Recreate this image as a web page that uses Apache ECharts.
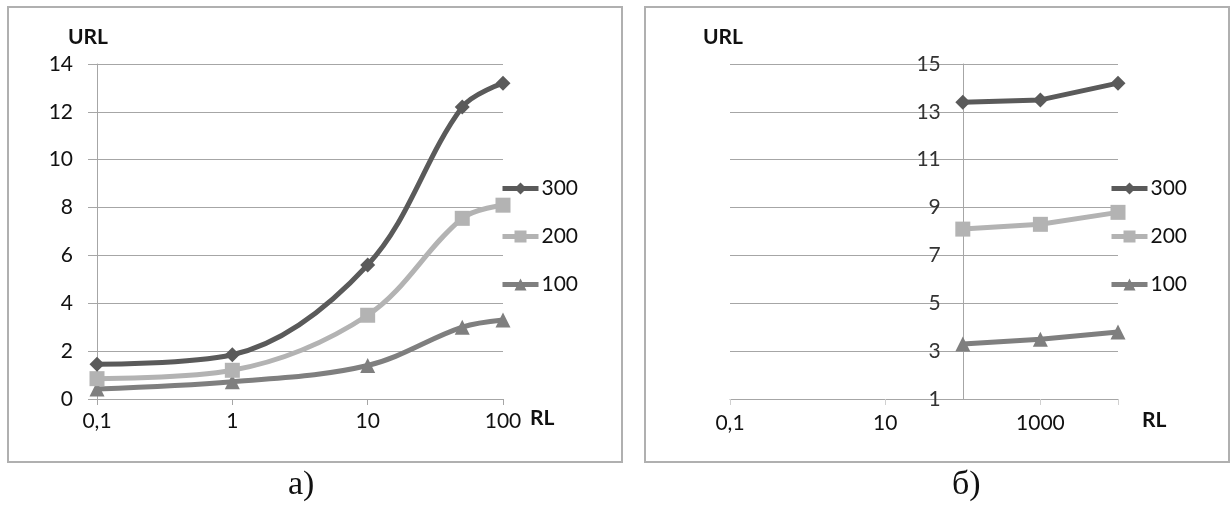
<!DOCTYPE html>
<html>
<head>
<meta charset="utf-8">
<script src="https://cdn.jsdelivr.net/npm/echarts@6/dist/echarts.min.js"></script>
<style>
html,body{margin:0;padding:0;background:#fff;}
#c{width:1231px;height:509px;}
</style>
</head>
<body>
<div id="c"></div>
<script>
// ---- Data ----
const seriesNames = ['300', '200', '100'];
// Panel a)
const xA = [0.1, 1, 10, 50, 100];
const a300 = [1.45, 1.85, 5.6, 12.2, 13.2];
const a200 = [0.85, 1.2, 3.5, 7.55, 8.1];
const a100 = [0.42, 0.72, 1.4, 3.0, 3.3];
// Panel б)
const xB = [100, 1000, 10000];
const b300 = [13.4, 13.5, 14.2];
const b200 = [8.1, 8.3, 8.8];
const b100 = [3.3, 3.5, 3.8];
const xLabelsB = ['0.1', '10', '1000'];

const colors = { '300': '#5a5a5a', '200': '#b3b3b3', '100': '#7f7f7f' };
const symbols = { '300': 'diamond', '200': 'rect', '100': 'triangle' };
const symSize = { '300': 15, '200': 15, '100': 15 };

const font = 'Lato, "Open Sans", sans-serif';
const gridColor = '#a6a6a6';

function pairs(xs, ys) { return xs.map((x, i) => [x, ys[i]]); }

const chart = echarts.init(document.getElementById('c'), null, { renderer: 'canvas' });

function mkSeries(name, xs, ys, idx, smooth) {
  return {
    name: name, type: 'line', xAxisIndex: idx, yAxisIndex: idx,
    data: pairs(xs, ys), smooth: smooth,
    symbol: symbols[name], symbolSize: symSize[name],
    lineStyle: { color: colors[name], width: 5 },
    itemStyle: { color: colors[name] },
    z: name === '300' ? 5 : (name === '200' ? 4 : 3)
  };
}

const commaFmt = v => String(v).replace('.', ',');

const legendBase = {
  data: seriesNames, orient: 'vertical', left: 495, top: 173,
  itemWidth: 36, itemHeight: 15, itemGap: 27,
  lineStyle: { width: 5 },
  textStyle: { fontFamily: font, fontSize: 21, color: '#111', padding: [0, 0, 0, -2] },
  selectedMode: false
};

const option = {
  animation: false,
  backgroundColor: '#fff',
  grid: [
    { left: 97, top: 64, width: 406, height: 335 },
    { left: 730, top: 64, width: 388, height: 335 }
  ],
  xAxis: [
    {
      gridIndex: 0, type: 'log', logBase: 10, min: 0.1, max: 100,
      axisLine: { show: true, lineStyle: { color: gridColor, width: 1 } },
      axisTick: { show: true, length: 6, lineStyle: { color: gridColor } },
      splitLine: { show: false },
      axisLabel: { formatter: commaFmt, fontFamily: font, fontSize: 21, color: '#111', margin: 12 }
    },
    {
      gridIndex: 1, type: 'log', logBase: 10, min: 0.1, max: 10000, interval: 2,
      axisLine: { show: true, lineStyle: { color: gridColor, width: 1 } },
      axisTick: { show: true, length: 6, lineStyle: { color: '#d0d0d0' } },
      splitLine: { show: false },
      axisLabel: {
        formatter: v => (xLabelsB.indexOf(String(v)) >= 0 ? commaFmt(v) : ''),
        fontFamily: font, fontSize: 21, color: '#111', margin: 14
      }
    }
  ],
  yAxis: [
    {
      gridIndex: 0, type: 'value', min: 0, max: 14, interval: 2,
      axisLine: { show: true, lineStyle: { color: gridColor } },
      axisTick: { show: true, length: 9, lineStyle: { color: gridColor } },
      splitLine: { show: true, lineStyle: { color: gridColor, width: 1 } },
      axisLabel: { fontFamily: font, fontSize: 21, color: '#111', margin: 24 }
    },
    {
      gridIndex: 1, type: 'value', min: 1, max: 15, interval: 2,
      axisLine: { show: true, onZero: false, lineStyle: { color: gridColor } },
      axisTick: { show: false },
      splitLine: { show: true, lineStyle: { color: gridColor, width: 1 } },
      axisLabel: { fontFamily: font, fontSize: 21, color: '#333', margin: 22 }
    }
  ],
  legend: [legendBase],
  series: [
    mkSeries('300', xA, a300, 0, 0.35),
    mkSeries('200', xA, a200, 0, 0.35),
    mkSeries('100', xA, a100, 0, 0.35),
    mkSeries('300', xB, b300, 1, false),
    mkSeries('200', xB, b200, 1, false),
    mkSeries('100', xB, b100, 1, false)
  ],
  graphic: [
    { type: 'rect', shape: { x: 8, y: 7, width: 614, height: 455 }, style: { fill: 'none', stroke: '#b0b0b0', lineWidth: 2 }, silent: true, z: -10 },
    { type: 'rect', shape: { x: 645, y: 7, width: 584, height: 455 }, style: { fill: 'none', stroke: '#b0b0b0', lineWidth: 2 }, silent: true, z: -10 },
    { type: 'text', left: 68, top: 27, style: { text: 'URL', font: 'bold 21px ' + font, fill: '#111' } },
    { type: 'text', left: 530, top: 408, style: { text: 'RL', font: 'bold 21px ' + font, fill: '#111' } },
    { type: 'text', left: 703, top: 27, style: { text: 'URL', font: 'bold 21px ' + font, fill: '#111' } },
    { type: 'text', left: 1142, top: 410, style: { text: 'RL', font: 'bold 21px ' + font, fill: '#111' } },
    { type: 'text', left: 288, top: 468, style: { text: 'а)', font: '34px "Liberation Serif", serif', fill: '#111' } },
    { type: 'text', left: 952, top: 468, style: { text: 'б)', font: '34px "Liberation Serif", serif', fill: '#111' } }
  ]
};

chart.setOption(option);

// Position the right panel y-axis so that it crosses at RL = 100
const crossX = chart.convertToPixel({ xAxisIndex: 1 }, xB[0]);
const gridLeftPx = chart.convertToPixel({ xAxisIndex: 1 }, 0.1);
chart.setOption({
  yAxis: [{}, { offset: -(crossX - gridLeftPx) }],
  legend: [legendBase, Object.assign({}, legendBase, { left: 1104 })]
});
</script>
</body>
</html>
